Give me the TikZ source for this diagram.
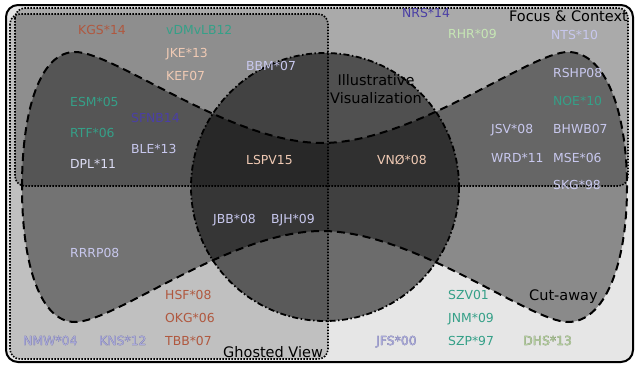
\documentclass[tikz,border=0pt]{standalone}
\usepackage{fontspec}
\setmainfont{DejaVu Sans}
\newfontfamily\oboldfont[FakeBold=2.2]{DejaVu Sans}
\definecolor{bgl}{HTML}{E6E6E6}
\definecolor{rust}{HTML}{B0583F}
\definecolor{tealc}{HTML}{35A088}
\definecolor{peach}{HTML}{F0CAB4}
\definecolor{lav}{HTML}{C8C8EE}
\definecolor{lavw}{HTML}{DCDCF4}
\definecolor{indig}{HTML}{4A3FA5}
\definecolor{lgreen}{HTML}{C6E6B4}
\definecolor{olavin}{HTML}{ACACDA}
\definecolor{olavout}{HTML}{7676A8}
\definecolor{ogrin}{HTML}{B6CEA2}
\definecolor{ogrout}{HTML}{7E946A}
\newcommand{\outltext}[3]{\rlap{\color{#2}\oboldfont #1}\textcolor{#3}{#1}}
\def\cutpath{(22,187) .. controls (22,110) and (40,52) .. (75,52)
  .. controls (115,52) and (230,143) .. (322,143)
  .. controls (414,143) and (530,52) .. (568,52)
  .. controls (605,52) and (627,110) .. (627,187)
  .. controls (627,264) and (605,322) .. (568,322)
  .. controls (530,322) and (414,231) .. (322,231)
  .. controls (230,231) and (115,322) .. (75,322)
  .. controls (40,322) and (22,264) .. (22,187) -- cycle}
\tikzset{
  code/.style={font=\fontsize{12.4}{14}\selectfont, inner sep=0pt, anchor=base west},
  lbl/.style={font=\fontsize{14.5}{17.5}\selectfont, inner sep=0pt, text=black},
  setbox/.style={line width=1.6pt, dash pattern=on 1.5pt off 1.5pt, rounded corners=10pt},
}
\begin{document}
\begin{tikzpicture}[x=1pt, y=-1pt]
\useasboundingbox (0,0) rectangle (635,367);
% background
\fill[bgl, rounded corners=12pt] (6,5) rectangle (633,362);
% region fills
\fill[black, fill opacity=0.165, rounded corners=10pt] (10,14) rectangle (328,359);
\fill[black, fill opacity=0.26, rounded corners=10pt] (15,8) rectangle (628,186);
\fill[black, fill opacity=0.40] \cutpath;
\fill[black, fill opacity=0.53] (325,187) circle (134);
% borders
\draw[setbox] (10,14) rectangle (328,359);
\draw[setbox] (15,8) rectangle (628,186);
\draw[line width=2pt, dash pattern=on 8pt off 5pt] \cutpath;
\draw[line width=1.8pt, dash pattern=on 6pt off 2.5pt on 1.5pt off 2.5pt] (325,187) circle (134);
\draw[line width=2pt, rounded corners=12pt] (6,5) rectangle (633,362);
% labels
\node[lbl, anchor=base east] (fc) at (628,21.5) {Focus \& Context};
\node[lbl, anchor=base west] (gv) at (223,357) {Ghosted View};
\node[lbl, anchor=base west] (ca) at (529,300) {Cut-away};
\node[lbl, anchor=base, align=center] (iv) at (376,103) {Illustrative\\Visualization};
% codes
\node[code, text=rust] (kgs) at (78,34) {KGS*14};
\node[code, text=tealc] (vdm) at (166,34) {vDMvLB12};
\node[code, text=peach] (jke) at (166,57.5) {JKE*13};
\node[code, text=peach] (kef) at (166,80) {KEF07};
\node[code, text=lav] (bbm) at (246,70) {BBM*07};
\node[code, text=tealc] (esm) at (70,106) {ESM*05};
\node[code, text=indig] (sfnb) at (131,122) {SFNB14};
\node[code, text=tealc] (rtf) at (70,137) {RTF*06};
\node[code, text=lav] (ble) at (131,153) {BLE*13};
\node[code, text=lavw] (dpl) at (70,168) {DPL*11};
\node[code, text=peach] (lspv) at (246,164) {LSPV15};
\node[code, text=indig] (nrs) at (402,17) {NRS*14};
\node[code, text=lgreen] (rhr) at (448,38) {RHR*09};
\node[code, text=lav] (nts) at (551,39) {NTS*10};
\node[code, text=lav] (rshp) at (553,77) {RSHP08};
\node[code, text=tealc] (noe) at (553,105) {NOE*10};
\node[code, text=lav] (jsv) at (491,133) {JSV*08};
\node[code, text=lav] (bhwb) at (553,133) {BHWB07};
\node[code, text=lav] (wrd) at (491,162) {WRD*11};
\node[code, text=lav] (mse) at (553,162) {MSE*06};
\node[code, text=lav] (skg) at (553,189.5) {SKG*98};
\node[code, text=peach] (vno) at (377,164) {VNØ*08};
\node[code, text=lav] (jbb) at (213,223) {JBB*08};
\node[code, text=lav] (bjh) at (271,223) {BJH*09};
\node[code, text=lav] (rrrp) at (70,257) {RRRP08};
\node[code, text=rust] (hsf) at (165,299) {HSF*08};
\node[code, text=rust] (okg) at (165,322) {OKG*06};
\node[code, text=rust] (tbb) at (165,345) {TBB*07};
\node[code] (nmw) at (23,345) {\outltext{NMW*04}{olavout}{olavin}};
\node[code] (kns) at (99,345) {\outltext{KNS*12}{olavout}{olavin}};
\node[code] (jfs) at (376,345) {\outltext{JFS*00}{olavout}{olavin}};
\node[code] (dhs) at (523,345) {\outltext{DHS*13}{ogrout}{ogrin}};
\node[code, text=tealc] (szv) at (448,299) {SZV01};
\node[code, text=tealc] (jnm) at (448,322) {JNM*09};
\node[code, text=tealc] (szp) at (448,345) {SZP*97};
\end{tikzpicture}
\end{document}
